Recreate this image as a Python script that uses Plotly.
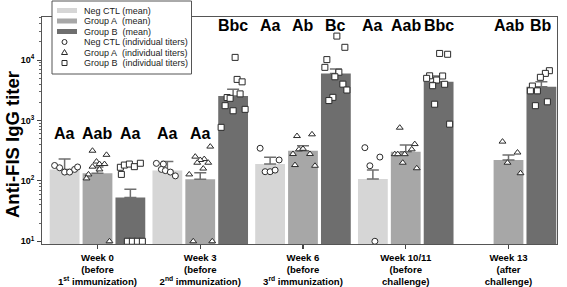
import plotly.graph_objects as go

# ---------------- data ----------------
weeks = ["Week 0", "Week 3", "Week 6", "Week 10/11", "Week 13"]
week_labels = [
    "<b>Week 0</b><br><b>(before</b><br><b>1<sup>st</sup> immunization)</b>",
    "<b>Week 3</b><br><b>(before</b><br><b>2<sup>nd</sup> immunization)</b>",
    "<b>Week 6</b><br><b>(before</b><br><b>3<sup>rd</sup> immunization)</b>",
    "<b>Week 10/11</b><br><b>(before</b><br><b>challenge)</b>",
    "<b>Week 13</b><br><b>(after</b><br><b>challenge)</b>",
]
series_names = ["Neg CTL", "Group A", "Group B"]

# geometric means (bar heights) and upper end of error bars
neg_mean = [155, 148, 190, 107, None]
neg_upper = [230, 210, 246, 151, None]
a_mean = [134, 106, 316, 304, 222]
a_upper = [170, 137, 383, 393, 269]
b_mean = [53, 2540, 6030, 4390, 3630]
b_upper = [73, 3290, 7130, 5460, 4390]

# individual titers per week
neg_pts = [
    [180, 165, 140, 140, 155, 170],
    [195, 190, 155, 148, 140, 121],
    [347, 222, 142, 142, 151],
    [355, 248, 178, 10],
    [],
]
a_pts = [
    [316, 270, 209, 190, 190, 172, 155, 128, 110, 10],
    [370, 252, 230, 222, 200, 200, 160, 128, 10, 10],
    [553, 590, 279, 333, 340, 279, 183, 178],
    [760, 407, 333, 277, 277, 277, 200, 162],
    [447, 295, 200, 134],
]
b_pts = [
    [168, 183, 190, 172, 196, 128, 10, 10, 10, 10],
    [11100, 4790, 4370, 2400, 2330, 2760, 1760, 1450, 1530, 771],
    [25000, 16300, 10200, 7590, 6300, 5300, 4000, 3200, 2420, 2140],
    [12900, 12500, 5500, 4990, 4680, 5460, 3770, 3980, 1860, 870],
    [6680, 6030, 5190, 3720, 3100, 3100, 1760, 2040],
]

# significance letters
neg_letters = ["Aa", "Aa", "Aa", "Aa", ""]
a_letters = ["Aab", "Aa", "Ab", "Aab", "Aab"]
b_letters = ["Aa", "Bbc", "Bc", "Bbc", "Bb"]

# ---------------- layout / style (not data) ----------------
W, H = 567, 287
PL, PR, PT, PB = 42, 557, 17, 244
X_RANGE = [-0.54, 4.472]
Y_RANGE = [0.955, 4.714]
PX_PER_CAT = (PR - PL) / (X_RANGE[1] - X_RANGE[0])
SLOT = 0.32
BAR_W = 0.29
colors = ["#d6d6d6", "#a7a7a7", "#6e6e6e"]
symbols = ["circle", "triangle-up", "square"]
FONT = "Liberation Sans, Arial, sans-serif"

# horizontal scatter of the individual points within each bar (pixels)
neg_jit = [[-10, -5, 0, 5, 10, 13], [-11, -4, -6, -2, 3, 8], [-10, 9, -5, 0, 5], [-8, 7, -3, 2], []]
a_jit = [[-5, 9, -1, 2, 7, -5, 2, -9, -11, 12], [10, -5, 4, 0, -3, 8, 3, -11, -7, 12],
         [-6, 9, -10, -4, 0, 7, -8, 12], [-6, 9, 6, -11, -8, -1, -3, 11], [-6, 9, -1, 12]]
b_jit = [[-10, -6, -1, 4, 10, -9, -3, 2, 7, 12], [2, 4, 9, -6, -3, 7, -8, 0, 12, -12],
         [1, 9, -9, -11, 3, -1, 7, 11, -3, -7], [1, 9, -9, -12, -2, 4, -6, 6, -4, 11],
         [8, 4, -1, -9, -11, -4, -6, 6]]

# letter rows (log10 of y) per week
LOW, HIGH = 2.79, 4.58
letter_rows = [[LOW, LOW, LOW], [LOW, LOW, HIGH], [HIGH] * 3, [HIGH] * 3, [HIGH] * 3]

means = [neg_mean, a_mean, b_mean]
uppers = [neg_upper, a_upper, b_upper]
points = [neg_pts, a_pts, b_pts]
jitters = [neg_jit, a_jit, b_jit]
letters = [neg_letters, a_letters, b_letters]

fig = go.Figure()
cats = list(range(len(weeks)))

for k in range(3):
    off = (k - 1) * SLOT
    xs = [c + off for c in cats]
    plus = [(u - m) if (u is not None and m is not None) else None for u, m in zip(uppers[k], means[k])]
    fig.add_trace(go.Bar(
        x=xs, y=means[k], width=BAR_W, name=series_names[k] + " (mean)",
        marker=dict(color=colors[k], line=dict(width=0)),
        error_y=dict(type="data", symmetric=False, array=plus,
                     arrayminus=[0] * len(plus), color="#6f6f6f", thickness=1.5, width=6),
        showlegend=False,
    ))

for k in range(3):
    off = (k - 1) * SLOT
    px_, py_ = [], []
    for c in cats:
        for v, j in zip(points[k][c], jitters[k][c]):
            px_.append(c + off + j / PX_PER_CAT)
            py_.append(v)
    fig.add_trace(go.Scatter(
        x=px_, y=py_, mode="markers", name=series_names[k] + " (individual titers)",
        marker=dict(symbol=symbols[k], size=6, color="white",
                    line=dict(color="#2a2a2a", width=1)),
        showlegend=False,
    ))

annotations = []
for k in range(3):
    off = (k - 1) * SLOT
    for c in cats:
        t = letters[k][c]
        if not t:
            continue
        annotations.append(dict(
            x=c + off, y=letter_rows[c][k], xref="x", yref="y", text="<b>%s</b>" % t,
            showarrow=False, xanchor="center", yanchor="middle",
            font=dict(family=FONT, size=16, color="black"),
        ))


def pxp(x):
    return (x - PL) / (PR - PL)


def pyp(y):
    return (PB - y) / (PB - PT)


# y axis title
annotations.append(dict(
    x=pxp(12), y=pyp(145), xref="paper", yref="paper", text="<b>Anti-FIS IgG titer</b>",
    textangle=-90, showarrow=False, xanchor="center", yanchor="middle",
    font=dict(family=FONT, size=18.5, color="black"),
))

# compact legend box (Plotly's own legend rows are too tall for this layout)
shapes = [dict(type="rect", xref="paper", yref="paper", x0=pxp(52), x1=pxp(191.5),
               y0=pyp(74), y1=pyp(1), fillcolor="white",
               line=dict(color="#555555", width=1), layer="above")]
legend_labels = ["Neg CTL (mean)", "Group A&nbsp; (mean)", "Group B&nbsp; (mean)",
                 "Neg CTL (individual titers)", "Group A&nbsp; (individual titers)",
                 "Group B&nbsp; (individual titers)"]
row_y = [10.5 + 10.5 * r for r in range(6)]
for r, lab in enumerate(legend_labels):
    yy = row_y[r]
    if r < 3:
        shapes.append(dict(type="rect", xref="paper", yref="paper", x0=pxp(57), x1=pxp(77),
                           y0=pyp(yy + 2.5), y1=pyp(yy - 2.5), fillcolor=colors[r],
                           line=dict(width=0), layer="above"))
    else:
        sym = r - 3
        common = dict(xref="paper", yref="paper", xsizemode="pixel", ysizemode="pixel",
                      xanchor=pxp(64.5), yanchor=pyp(yy), fillcolor="white",
                      line=dict(color="#2a2a2a", width=1), layer="above")
        if sym == 0:
            shapes.append(dict(type="circle", x0=-2.5, x1=2.5, y0=-2.5, y1=2.5, **common))
        elif sym == 1:
            shapes.append(dict(type="path", path="M-3,-2 L3,-2 L0,3 Z", **common))
        else:
            shapes.append(dict(type="rect", x0=-2.5, x1=2.5, y0=-2.5, y1=2.5, **common))
    annotations.append(dict(
        x=pxp(82), y=pyp(yy), xref="paper", yref="paper", text=lab, showarrow=False,
        xanchor="left", yanchor="middle", font=dict(family=FONT, size=9, color="#222222"),
    ))

fig.update_layout(
    width=W, height=H,
    margin=dict(l=PL, r=W - PR, t=PT, b=H - PB, pad=0, autoexpand=False),
    paper_bgcolor="white", plot_bgcolor="white",
    barmode="overlay", showlegend=False,
    font=dict(family=FONT, color="black"),
    annotations=annotations, shapes=shapes,
    xaxis=dict(
        range=X_RANGE, tickmode="array", tickvals=cats, ticktext=week_labels,
        ticks="outside", ticklen=4, tickcolor="#444444", tickwidth=1.2,
        automargin=False,
        tickfont=dict(family=FONT, size=9.6, color="black"),
        showline=True, linecolor="#555555", linewidth=1, mirror=True,
        showgrid=False, zeroline=False,
    ),
    yaxis=dict(
        type="log", range=Y_RANGE,
        tickmode="array", tickvals=[10, 100, 1000, 10000],
        ticktext=["<b>10<sup>1</sup></b>", "<b>10<sup>2</sup></b>",
                  "<b>10<sup>3</sup></b>", "<b>10<sup>4</sup></b>"],
        ticks="outside", ticklen=4, tickcolor="#444444",
        ticklabelstandoff=1, automargin=False,
        tickfont=dict(family=FONT, size=9, color="black"),
        minor=dict(ticks="outside", ticklen=2, tickcolor="#666666", dtick="D1"),
        showline=True, linecolor="#555555", linewidth=1, mirror=True,
        showgrid=False, zeroline=False,
    ),
)

fig.write_html(
    "out.html",
    config={"displayModeBar": False, "staticPlot": True},
    post_script="document.body.style.margin='0';document.body.style.overflow='hidden';",
)
